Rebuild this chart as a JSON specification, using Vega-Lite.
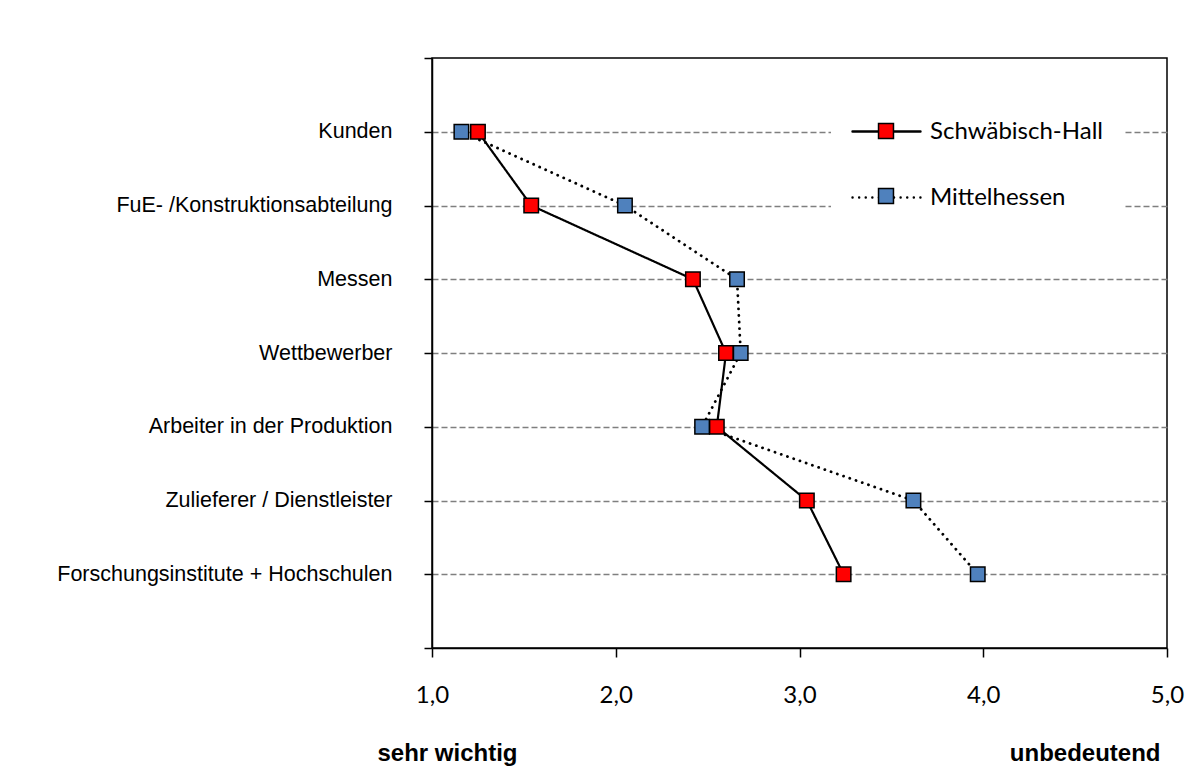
{
  "$schema": "https://vega.github.io/schema/vega-lite/v6.json",
  "autosize": {"type": "none"},
  "padding": {"left": 432, "top": 58, "right": 35, "bottom": 121},
  "width": 735,
  "height": 590,
  "background": "white",
  "data": {
    "values": [
      {"Kategorie": "Kunden", "Region": "Schwäbisch-Hall", "Wert": 1.25},
      {"Kategorie": "FuE- /Konstruktionsabteilung", "Region": "Schwäbisch-Hall", "Wert": 1.54},
      {"Kategorie": "Messen", "Region": "Schwäbisch-Hall", "Wert": 2.42},
      {"Kategorie": "Wettbewerber", "Region": "Schwäbisch-Hall", "Wert": 2.6},
      {"Kategorie": "Arbeiter in der Produktion", "Region": "Schwäbisch-Hall", "Wert": 2.55},
      {"Kategorie": "Zulieferer / Dienstleister", "Region": "Schwäbisch-Hall", "Wert": 3.04},
      {"Kategorie": "Forschungsinstitute + Hochschulen", "Region": "Schwäbisch-Hall", "Wert": 3.24},
      {"Kategorie": "Kunden", "Region": "Mittelhessen", "Wert": 1.16},
      {"Kategorie": "FuE- /Konstruktionsabteilung", "Region": "Mittelhessen", "Wert": 2.05},
      {"Kategorie": "Messen", "Region": "Mittelhessen", "Wert": 2.66},
      {"Kategorie": "Wettbewerber", "Region": "Mittelhessen", "Wert": 2.68},
      {"Kategorie": "Arbeiter in der Produktion", "Region": "Mittelhessen", "Wert": 2.47},
      {"Kategorie": "Zulieferer / Dienstleister", "Region": "Mittelhessen", "Wert": 3.62},
      {"Kategorie": "Forschungsinstitute + Hochschulen", "Region": "Mittelhessen", "Wert": 3.97}
    ]
  },
  "encoding": {
    "x": {
      "field": "Wert",
      "type": "quantitative",
      "scale": {"domain": [1, 5], "nice": false, "zero": false},
      "axis": {
        "values": [1, 2, 3, 4, 5],
        "labelExpr": "replace(format(datum.value, '.1f'), '.', ',')",
        "grid": false,
        "domainColor": "black",
        "domainWidth": 1.5,
        "tickColor": "black",
        "tickWidth": 1.5,
        "tickSize": 9,
        "labelFont": "Lato",
        "labelFontSize": 24,
        "labelColor": "black",
        "labelPadding": 26,
        "labelFlush": false,
        "title": "unbedeutend",
        "titleFont": "Liberation Sans",
        "titleFontSize": 24,
        "titleFontWeight": "bold",
        "titleColor": "black",
        "titleX": 728,
        "titleY": 112,
        "titleAlign": "right",
        "titleBaseline": "alphabetic"
      }
    },
    "y": {
      "field": "Kategorie",
      "type": "nominal",
      "scale": {
        "type": "point",
        "padding": 0,
        "domain": ["", "Kunden", "FuE- /Konstruktionsabteilung", "Messen", "Wettbewerber", "Arbeiter in der Produktion", "Zulieferer / Dienstleister", "Forschungsinstitute + Hochschulen", " "]
      },
      "axis": {
        "grid": true,
        "gridColor": {"condition": {"test": "trim(datum.value) == ''", "value": "transparent"}, "value": "#7f7f7f"},
        "gridDash": [6, 3],
        "gridWidth": 1.3,
        "domainColor": "black",
        "domainWidth": 1.5,
        "tickColor": "black",
        "tickWidth": 1.5,
        "tickSize": 8,
        "labelFont": "Liberation Sans",
        "labelFontSize": 21.5,
        "labelColor": "black",
        "labelPadding": 32,
        "labelLimit": 500,
        "title": "sehr wichtig",
        "titleFont": "Liberation Sans",
        "titleFontSize": 24,
        "titleFontWeight": "bold",
        "titleColor": "black",
        "titleAngle": 0,
        "titleX": 15,
        "titleY": 702,
        "titleAlign": "center",
        "titleBaseline": "alphabetic"
      }
    }
  },
  "layer": [
    {
      "mark": {"type": "line", "color": "black", "strokeCap": "round"},
      "encoding": {
        "order": {"value": null},
        "strokeDash": {
          "field": "Region",
          "type": "nominal",
          "sort": ["Schwäbisch-Hall", "Mittelhessen"],
          "scale": {"range": [[1, 0], [0.1, 6.5]]},
          "legend": {
            "title": null,
            "orient": "none",
            "legendX": 399,
            "legendY": 18,
            "padding": 20,
            "fillColor": "white",
            "strokeColor": null,
            "symbolType": "M-1,0H-0.22M0.22,0H1",
            "symbolSize": 4624,
            "symbolStrokeWidth": 2.4,
            "symbolStrokeColor": "black",
            "symbolOpacity": 1,
            "labelFont": "Lato",
            "labelFontSize": 24,
            "labelColor": "black",
            "labelOffset": 8,
            "labelLimit": 400,
            "rowPadding": 18,
            "zindex": 1,
            "encode": {"symbols": {"update": {"strokeCap": {"value": "round"}}}}
          }
        },
        "strokeWidth": {
          "field": "Region",
          "type": "nominal",
          "sort": ["Schwäbisch-Hall", "Mittelhessen"],
          "scale": {"range": [2.2, 2.8]},
          "legend": null
        }
      }
    },
    {
      "mark": {"type": "point", "shape": "square", "filled": true, "size": 210, "stroke": "black", "strokeWidth": 1.5, "opacity": 1},
      "encoding": {
        "fill": {
          "field": "Region",
          "type": "nominal",
          "scale": {"domain": ["Schwäbisch-Hall", "Mittelhessen"], "range": ["#FF0000", "#4F81BD"]},
          "legend": {
            "title": null,
            "orient": "none",
            "legendX": 399,
            "legendY": 18,
            "padding": 20,
            "fillColor": null,
            "strokeColor": null,
            "symbolType": "M-0.22,-0.22H0.22V0.22H-0.22Z",
            "symbolSize": 4624,
            "symbolStrokeWidth": 1.5,
            "symbolStrokeColor": "black",
            "symbolOpacity": 1,
            "labelFont": "Lato",
            "labelFontSize": 24,
            "labelColor": "transparent",
            "labelOffset": 8,
            "labelLimit": 400,
            "rowPadding": 18,
            "zindex": 2
          }
        }
      }
    }
  ],
  "config": {
    "view": {"stroke": "black", "strokeWidth": 1.5}
  }
}
